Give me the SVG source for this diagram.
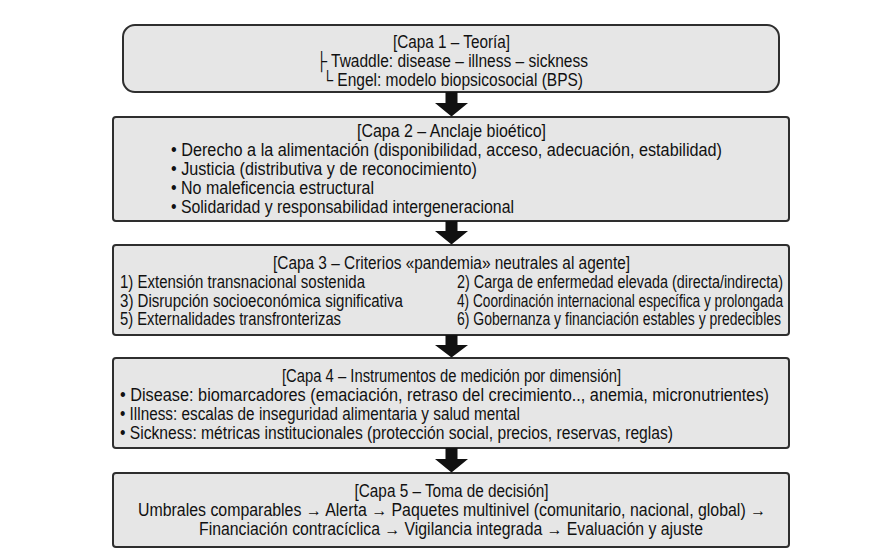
<svg xmlns="http://www.w3.org/2000/svg" width="877" height="556" viewBox="0 0 877 556">
<style>
.box{fill:#e6e6e6;stroke:#2e2e2e;stroke-width:2}
text{font-family:"Liberation Sans",Arial,sans-serif;font-size:17.5px;fill:#111}
.c{text-anchor:middle}
.arrow{fill:#111}
</style>
<rect width="877" height="556" fill="#ffffff"/>
<g id="capa1">
<rect class="box" x="123" y="25" width="656" height="67" rx="12"/>
<text class="c" x="451.5" y="48" textLength="117" lengthAdjust="spacingAndGlyphs">[Capa 1 – Teoría]</text>
<text x="316" y="67" textLength="272" lengthAdjust="spacingAndGlyphs">├ Twaddle: disease – illness – sickness</text>
<text x="322" y="86" textLength="261" lengthAdjust="spacingAndGlyphs">└ Engel: modelo biopsicosocial (BPS)</text>
</g>
<g id="capa2">
<rect class="box" x="113" y="117" width="676" height="104" rx="3"/>
<text class="c" x="451.5" y="137" textLength="189" lengthAdjust="spacingAndGlyphs">[Capa 2 – Anclaje bioético]</text>
<text x="171" y="156" textLength="551" lengthAdjust="spacingAndGlyphs">• Derecho a la alimentación (disponibilidad, acceso, adecuación, estabilidad)</text>
<text x="171" y="175" textLength="306" lengthAdjust="spacingAndGlyphs">• Justicia (distributiva y de reconocimiento)</text>
<text x="171" y="194" textLength="203" lengthAdjust="spacingAndGlyphs">• No maleficencia estructural</text>
<text x="171" y="213" textLength="343" lengthAdjust="spacingAndGlyphs">• Solidaridad y responsabilidad intergeneracional</text>
</g>
<g id="capa3">
<rect class="box" x="113" y="245" width="676" height="90" rx="3"/>
<text class="c" x="451.5" y="269" textLength="357" lengthAdjust="spacingAndGlyphs">[Capa 3 – Criterios «pandemia» neutrales al agente]</text>
<text x="120" y="288" textLength="245" lengthAdjust="spacingAndGlyphs">1) Extensión transnacional sostenida</text>
<text x="457" y="288" textLength="326" lengthAdjust="spacingAndGlyphs">2) Carga de enfermedad elevada (directa/indirecta)</text>
<text x="120" y="306.5" textLength="283" lengthAdjust="spacingAndGlyphs">3) Disrupción socioeconómica significativa</text>
<text x="457" y="306.5" textLength="326" lengthAdjust="spacingAndGlyphs">4) Coordinación internacional específica y prolongada</text>
<text x="120" y="325" textLength="221" lengthAdjust="spacingAndGlyphs">5) Externalidades transfronterizas</text>
<text x="457" y="325" textLength="324" lengthAdjust="spacingAndGlyphs">6) Gobernanza y financiación estables y predecibles</text>
</g>
<g id="capa4">
<rect class="box" x="113" y="358" width="676" height="90" rx="3"/>
<text class="c" x="451.5" y="382" textLength="339" lengthAdjust="spacingAndGlyphs">[Capa 4 – Instrumentos de medición por dimensión]</text>
<text x="120" y="401" textLength="649" lengthAdjust="spacingAndGlyphs">• Disease: biomarcadores (emaciación, retraso del crecimiento.., anemia, micronutrientes)</text>
<text x="120" y="420" textLength="400" lengthAdjust="spacingAndGlyphs">• Illness: escalas de inseguridad alimentaria y salud mental</text>
<text x="120" y="439" textLength="553" lengthAdjust="spacingAndGlyphs">• Sickness: métricas institucionales (protección social, precios, reservas, reglas)</text>
</g>
<g id="capa5">
<rect class="box" x="113" y="473" width="676" height="74" rx="3"/>
<text class="c" x="451.5" y="497" textLength="194" lengthAdjust="spacingAndGlyphs">[Capa 5 – Toma de decisión]</text>
<text class="c" x="452" y="516" textLength="628" lengthAdjust="spacingAndGlyphs">Umbrales comparables → Alerta → Paquetes multinivel (comunitario, nacional, global) →</text>
<text class="c" x="451" y="535" textLength="504" lengthAdjust="spacingAndGlyphs">Financiación contracíclica → Vigilancia integrada → Evaluación y ajuste</text>
</g>
<g id="connectors">
<path class="arrow" d="M445.5 92 H457.5 V103 H468 L451.5 116.5 L435 103 H445.5 Z"/>
<path class="arrow" d="M445.5 221 H457.5 V231 H468 L451.5 244.5 L435 231 H445.5 Z"/>
<path class="arrow" d="M445.5 335 H457.5 V345 H468 L451.5 357.5 L435 345 H445.5 Z"/>
<path class="arrow" d="M445.5 448 H457.5 V459 H468 L451.5 472.5 L435 459 H445.5 Z"/>
</g>
</svg>
